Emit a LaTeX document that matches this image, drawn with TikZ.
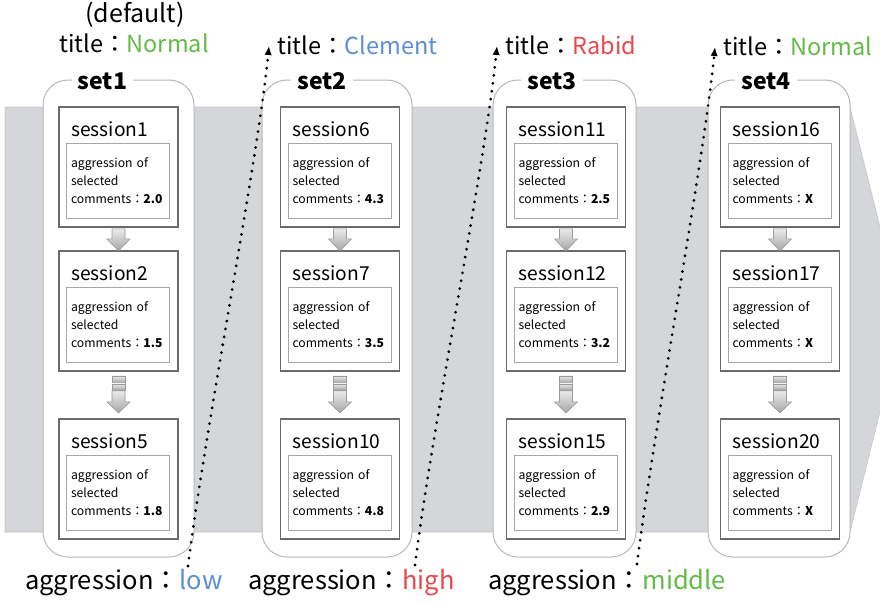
\documentclass[tikz,border=0pt]{standalone}
\usepackage{fontspec}
\setmainfont{Noto Sans CJK JP}
\usetikzlibrary{calc,arrows.meta}
\definecolor{cgreen}{RGB}{98,187,70}
\definecolor{cblue}{RGB}{92,142,212}
\definecolor{cred}{RGB}{232,72,76}
\definecolor{bandc}{RGB}{213,214,217}
\tikzset{
  setbox/.style={draw=black!28, line width=1pt, fill=white, rounded corners=25pt, minimum height=477pt, inner sep=0pt},
  settitle/.style={fill=white, font=\bfseries\fontsize{23}{26}\selectfont, inner xsep=6pt, inner ysep=1pt, anchor=base},
  sessbox/.style={draw=black!58, line width=1.8pt, fill=white, minimum width=119pt, minimum height=120pt, inner sep=0pt},
  sesslabel/.style={font=\fontsize{19.2}{21}\selectfont, anchor=west, inner sep=0pt},
  innerbox/.style={draw=black!35, line width=0.8pt, minimum width=103pt, minimum height=75pt, text width=94pt, inner xsep=4.5pt, align=left, font=\fontsize{12.2}{18}\selectfont, anchor=north west},
  arrowshade/.style={top color=black!8, bottom color=black!35, draw=black!40, line width=0.6pt},
  fatarrow/.pic={\path[arrowshade] (-6.5,0) -- (6.5,0) -- (6.5,10) -- (11.5,10) -- (0,22) -- (-11.5,10) -- (-6.5,10) -- cycle;},
  breakarrow/.pic={
    \path[arrowshade] (-6.5,3) rectangle (6.5,10);
    \path[arrowshade] (-6.5,11) rectangle (6.5,17);
    \path[arrowshade] (-6.5,18) -- (6.5,18) -- (6.5,29) -- (11.5,29) -- (0,40) -- (-11.5,29) -- (-6.5,29) -- cycle;},
  bigtext/.style={font=\fontsize{23.5}{26}\selectfont, inner sep=0pt},
  bottext/.style={font=\fontsize{25.5}{28}\selectfont, inner sep=0pt, anchor=west},
  dotline/.style={line width=3.1pt, dash pattern=on 0pt off 8pt, line cap=round, -{Latex[length=9pt,width=7.5pt]}}
}
\newcommand{\mysess}[5]{%
  \node[sessbox] (#1) at (#2,#3) {};
  \node[sesslabel] (#1l) at ($(#1.north west)+(13,23)$) {#4};
  \node[innerbox] (#1i) at ($(#1.north west)+(8,37)$) {aggression of\\selected\\comments：\textbf{#5}};
}
\begin{document}
\begin{tikzpicture}[x=1pt,y=-1pt]
\useasboundingbox (0,0) rectangle (880,603);
\begin{scope}
\clip (0,0) rectangle (880,603);
\fill[bandc] (5,107) -- (850,107) -- (903,319) -- (850,532) -- (5,532) -- cycle;
\draw[black!22, line width=0.6pt] (5,107) -- (850,107) -- (903,319) -- (850,532) -- (5,532) -- cycle;
\end{scope}
% containers
\node[setbox, minimum width=151pt] (set1) at (118.5,318.5) {};
\node[setbox, minimum width=150pt] (set2) at (337,318.5) {};
\node[setbox, minimum width=143pt] (set3) at (564.5,318.5) {};
\node[setbox, minimum width=142pt] (set4) at (779,318.5) {};
\node[settitle] (set1t) at (102.5,89) {set1};
\node[settitle] (set2t) at (322,89) {set2};
\node[settitle] (set3t) at (552,89) {set3};
\node[settitle] (set4t) at (766,89) {set4};
% sessions
\mysess{s1}{118.5}{167}{session1}{2.0}
\mysess{s2}{118.5}{311}{session2}{1.5}
\mysess{s5}{118.5}{479}{session5}{1.8}
\mysess{s6}{340}{167}{session6}{4.3}
\mysess{s7}{340}{311}{session7}{3.5}
\mysess{s10}{340}{479}{session10}{4.8}
\mysess{s11}{566}{167}{session11}{2.5}
\mysess{s12}{566}{311}{session12}{3.2}
\mysess{s15}{566}{479}{session15}{2.9}
\mysess{s16}{780}{167}{session16}{X}
\mysess{s17}{780}{311}{session17}{X}
\mysess{s20}{780}{479}{session20}{X}
\foreach \a in {s1,s6,s11,s16}{\pic at ($(\a.south)+(0,1)$) {fatarrow};}
\foreach \a in {s2,s7,s12,s17}{\pic at ($(\a.south)+(0,1)$) {breakarrow};}
% titles
\node[bigtext, font=\fontsize{25}{28}\selectfont] (def) at (135,15) {(default)};
\node[bigtext] (t1) at (134,43) {title：\textcolor{cgreen}{Normal}};
\node[bigtext, anchor=west] (t2) at (277,45) {title：\textcolor{cblue}{Clement}};
\node[bigtext, anchor=west] (t3) at (505,45) {title：\textcolor{cred}{Rabid}};
\node[bigtext, anchor=west] (t4) at (723,46) {title：\textcolor{cgreen}{Normal}};
% bottom labels
\node[bottext] (a1) at (25,583) {aggression：\textcolor{cblue}{low}};
\node[bottext] (a2) at (248,583) {aggression：\textcolor{cred}{high}};
\node[bottext] (a3) at (488,583) {aggression：\textcolor{cgreen}{middle}};
% dotted connectors
\coordinate (d1s) at (188,566);
\coordinate (d1e) at (269,46);
\coordinate (d2s) at (415,565);
\coordinate (d2e) at (497,46);
\coordinate (d3s) at (637,564);
\coordinate (d3e) at (715,47);
\draw[dotline] (d1s) .. controls +(17,-136) and +(-11,113) .. (d1e);
\draw[dotline] (d2s) .. controls +(17,-136) and +(-11,113) .. (d2e);
\draw[dotline] (d3s) .. controls +(17,-136) and +(-11,113) .. (d3e);
\end{tikzpicture}
\end{document}
